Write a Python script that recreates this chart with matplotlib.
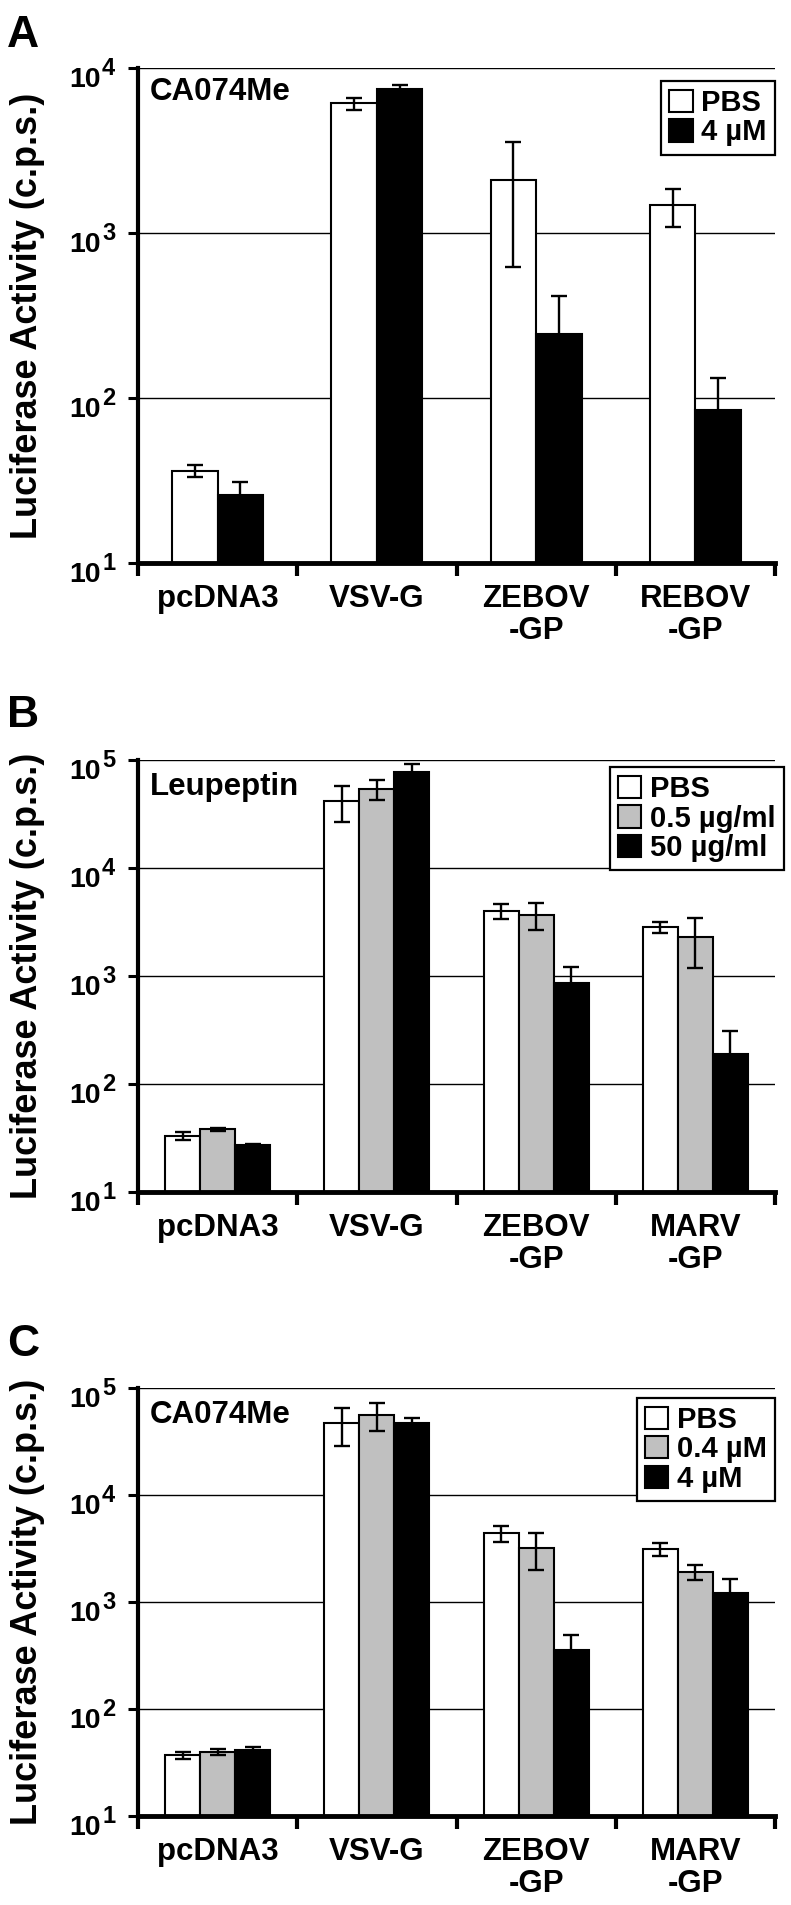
import numpy as np
import matplotlib
matplotlib.use("Agg")
import matplotlib.pyplot as plt
from matplotlib.patches import Patch

plt.rcParams['font.family'] = ['Liberation Sans', 'DejaVu Sans']
plt.rcParams['font.weight'] = 'bold'

# ---- data ----
cats_a = ["pcDNA3", "VSV-G", "ZEBOV\n-GP", "REBOV\n-GP"]
cats_bc = ["pcDNA3", "VSV-G", "ZEBOV\n-GP", "MARV\n-GP"]

a_labels = ["PBS", "4 µM"]
a_pbs = [36, 6100, 2100, 1470]
a_pbs_err = [3, 500, 1480, 380]
a_4um = [26, 7500, 245, 84]
a_4um_err = [5, 400, 170, 48]

b_labels = ["PBS", "0.5 µg/ml", "50 µg/ml"]
b_pbs = [33, 42000, 4000, 2850]
b_pbs_err = [3, 15500, 650, 330]
b_low = [38, 54000, 3700, 2300]
b_low_err = [1.5, 11000, 1050, 1120]
b_high = [27, 78000, 870, 190]
b_high_err = [1, 14000, 340, 118]

c_labels = ["PBS", "0.4 µM", "4 µM"]
c_pbs = [37, 46700, 4400, 3100]
c_pbs_err = [3, 18000, 780, 430]
c_low = [39.5, 56000, 3200, 1920]
c_low_err = [2.5, 16000, 1230, 320]
c_high = [41, 47500, 355, 1220]
c_high_err = [3.5, 5000, 140, 420]

colors2 = ["white", "black"]
colors3 = ["white", "#c0c0c0", "black"]

W, H = 791, 1905
fig = plt.figure(figsize=(W / 100, H / 100), dpi=100)


def px_axes(top, bottom, left=138, right=775):
    return fig.add_axes([left / W, 1 - bottom / H, (right - left) / W, (bottom - top) / H])


def draw_panel(ax, cats, series, errs, labels, colors, width, ymax, leg_anchor):
    x = np.arange(len(cats))
    n = len(series)
    for i in range(n):
        off = (i - (n - 1) / 2) * width
        ax.bar(x + off, series[i], width, color=colors[i], edgecolor="black",
               linewidth=1.5, zorder=2)
        ax.errorbar(x + off, series[i], yerr=errs[i], fmt="none", ecolor="black",
                    elinewidth=1.7, capsize=5.5, capthick=1.7, zorder=3)

    ax.set_yscale("log")
    ax.set_ylim(10, ymax)
    ax.set_xlim(-0.5, len(cats) - 0.5)

    # decade tick labels: "10" with a nearly full size exponent
    exps = list(range(1, int(round(np.log10(ymax))) + 1))
    ax.set_yticks([10 ** e for e in exps])
    ax.set_yticklabels([])
    ax.yaxis.set_minor_locator(matplotlib.ticker.NullLocator())
    ax.tick_params(axis="y", which="major", direction="out", length=7, width=2.2)
    ytr = ax.get_yaxis_transform()
    for e in exps:
        ax.annotate("10", xy=(0, 10 ** e), xycoords=ytr, xytext=(-37, -19),
                    textcoords="offset pixels", ha="right", va="baseline",
                    fontsize=20.5, fontweight="bold", annotation_clip=False)
        ax.annotate(str(e), xy=(0, 10 ** e), xycoords=ytr, xytext=(-36, -7),
                    textcoords="offset pixels", ha="left", va="baseline",
                    fontsize=17, fontweight="bold", annotation_clip=False)

    ax.set_xticks(np.arange(len(cats) + 1) - 0.5)
    ax.set_xticklabels([])
    ax.set_xticks(x, minor=True)
    ax.set_xticklabels(cats, minor=True, fontsize=22.5, fontweight="bold", linespacing=1.08)
    ax.tick_params(axis="x", which="major", direction="out", length=9, width=3)
    ax.tick_params(axis="x", which="minor", length=0, pad=15)

    ax.yaxis.grid(True, which="major", color="black", linewidth=1.0)
    ax.set_axisbelow(True)
    ax.spines["top"].set_visible(False)
    ax.spines["right"].set_visible(False)
    ax.spines["left"].set_linewidth(3)
    ax.spines["bottom"].set_linewidth(3.5)

    handles = [Patch(facecolor=c, edgecolor="black", linewidth=1.5) for c in colors]
    leg = ax.legend(handles, labels, loc="upper right", bbox_to_anchor=leg_anchor,
                    borderaxespad=0, fancybox=False, framealpha=1, edgecolor="black",
                    prop={"size": 21, "weight": "bold"}, handlelength=0.8,
                    handleheight=0.8, handletextpad=0.3, labelspacing=0.05,
                    borderpad=0.28)
    leg.get_frame().set_linewidth(1.6)
    leg.set_zorder(5)


def fig_text(x, y, s, **kw):
    fig.text(x / W, 1 - y / H, s, **kw)


# panel A
ax_a = px_axes(68, 563)
draw_panel(ax_a, cats_a, [a_pbs, a_4um], [a_pbs_err, a_4um_err], a_labels, colors2,
           0.285, 1e4, (1.0, 0.974))
# panel B
ax_b = px_axes(760, 1192)
draw_panel(ax_b, cats_bc, [b_pbs, b_low, b_high], [b_pbs_err, b_low_err, b_high_err],
           b_labels, colors3, 0.22, 1e5, (1.014, 0.984))
# panel C
ax_c = px_axes(1388, 1816)
draw_panel(ax_c, cats_bc, [c_pbs, c_low, c_high], [c_pbs_err, c_low_err, c_high_err],
           c_labels, colors3, 0.22, 1e5, (1.0, 0.977))

# inhibitor names inside the plots
fig_text(150, 100, "CA074Me", fontsize=22.5, fontweight="bold", va="baseline")
fig_text(150, 795, "Leupeptin", fontsize=22.5, fontweight="bold", va="baseline")
fig_text(150, 1423, "CA074Me", fontsize=22.5, fontweight="bold", va="baseline")

# panel letters
fig_text(7, 47, "A", fontsize=32, fontweight="bold", va="baseline")
fig_text(7, 727, "B", fontsize=32, fontweight="bold", va="baseline")
fig_text(7, 1356, "C", fontsize=32, fontweight="bold", va="baseline")

# y axis titles
for top, bottom in [(68, 563), (760, 1192), (1388, 1816)]:
    fig_text(28, (top + bottom) / 2, "Luciferase Activity (c.p.s.)", fontsize=26,
             fontweight="bold", rotation=90, ha="center", va="center")

fig.savefig("out.png", dpi=100)
